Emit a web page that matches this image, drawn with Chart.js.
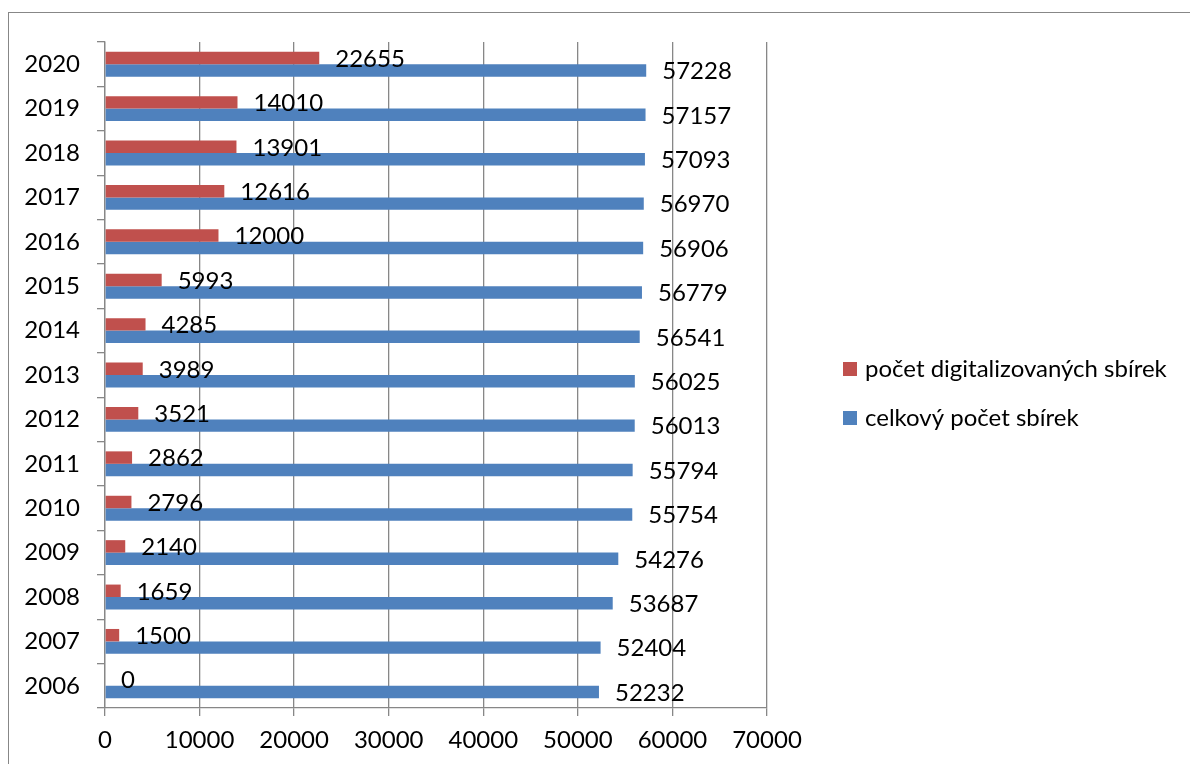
<!DOCTYPE html>
<html>
<head>
<meta charset="utf-8">
<script src="https://cdn.jsdelivr.net/npm/chart.js@4.4.0/dist/chart.umd.min.js"></script>
<style>
html, body { margin: 0; padding: 0; background: #fff; }
#wrap { position: relative; width: 1190px; height: 764px; overflow: hidden; }
#ramecek { position: absolute; left: 8px; top: 12px; width: 1300px; height: 900px; border: 1.5px solid #878787; }
canvas { position: absolute; left: 0; top: 0; }
</style>
</head>
<body>
<div id="wrap">
    <div id="ramecek"></div>
    <canvas id="graf" width="1190" height="764"></canvas>
</div>
<script>
const roky = ['2006', '2007', '2008', '2009', '2010', '2011', '2012', '2013', '2014', '2015', '2016', '2017', '2018', '2019', '2020'];
const digitalizovane = [0, 1500, 1659, 2140, 2796, 2862, 3521, 3989, 4285, 5993, 12000, 12616, 13901, 14010, 22655];
const celkem = [52232, 52404, 53687, 54276, 55754, 55794, 56013, 56025, 56541, 56779, 56906, 56970, 57093, 57157, 57228];
const nazvySerii = ['počet digitalizovaných sbírek', 'celkový počet sbírek'];
const osaXMax = 70000;
const osaXKrok = 10000;

const pismo = { family: 'Lato', size: 24 };
const seda = '#878787';

// popisky hodnot za koncem sloupcu
const popisky = {
    id: 'popisky',
    afterDatasetsDraw(chart) {
        const ctx = chart.ctx;
        ctx.save();
        ctx.font = pismo.size + 'px ' + pismo.family;
        ctx.fillStyle = '#000';
        ctx.textBaseline = 'middle';
        chart.data.datasets.forEach((ds, i) => {
            chart.getDatasetMeta(i).data.forEach((bar, j) => {
                ctx.fillText(String(ds.data[j]), bar.x + 16, bar.y + 1);
            });
        });
        ctx.restore();
    }
};

// legenda vpravo
const legenda = {
    id: 'legenda',
    afterDraw(chart) {
        const ctx = chart.ctx;
        const x = chart.chartArea.right + 76;
        ctx.save();
        ctx.font = pismo.size + 'px ' + pismo.family;
        ctx.textBaseline = 'middle';
        chart.data.datasets.forEach((ds, i) => {
            const y = 369 + i * 49;
            ctx.fillStyle = ds.backgroundColor;
            ctx.fillRect(x, y - 7, 14, 14);
            ctx.fillStyle = '#000';
            ctx.fillText(ds.label, x + 22, y);
        });
        ctx.restore();
    }
};

new Chart(document.getElementById('graf'), {
    type: 'bar',
    data: {
        labels: roky,
        datasets: [{
            label: nazvySerii[0],
            data: digitalizovane,
            backgroundColor: '#C0504D',
            categoryPercentage: 0.56,
            barPercentage: 1
        }, {
            label: nazvySerii[1],
            data: celkem,
            backgroundColor: '#4F81BD',
            categoryPercentage: 0.56,
            barPercentage: 1
        }]
    },
    options: {
        indexAxis: 'y',
        responsive: false,
        animation: false,
        layout: { padding: { top: 42, right: 423, left: 0, bottom: 0 } },
        plugins: {
            legend: { display: false },
            tooltip: { enabled: false }
        },
        scales: {
            x: {
                min: 0,
                max: osaXMax,
                ticks: {
                    stepSize: osaXKrok,
                    font: pismo,
                    color: '#000',
                    padding: 10,
                    maxRotation: 0,
                    callback: v => String(v)
                },
                grid: { color: seda, lineWidth: 1.3, tickLength: 8 },
                border: { color: seda, width: 1.3 },
                afterFit(s) { s.height = 56; }
            },
            y: {
                reverse: true,
                ticks: { font: pismo, color: '#000', padding: 17 },
                grid: { drawOnChartArea: false, color: seda, lineWidth: 1.3, tickLength: 8 },
                border: { color: seda, width: 1.3 },
                afterFit(s) { s.width = 105; }
            }
        }
    },
    plugins: [popisky, legenda]
});
</script>
</body>
</html>
